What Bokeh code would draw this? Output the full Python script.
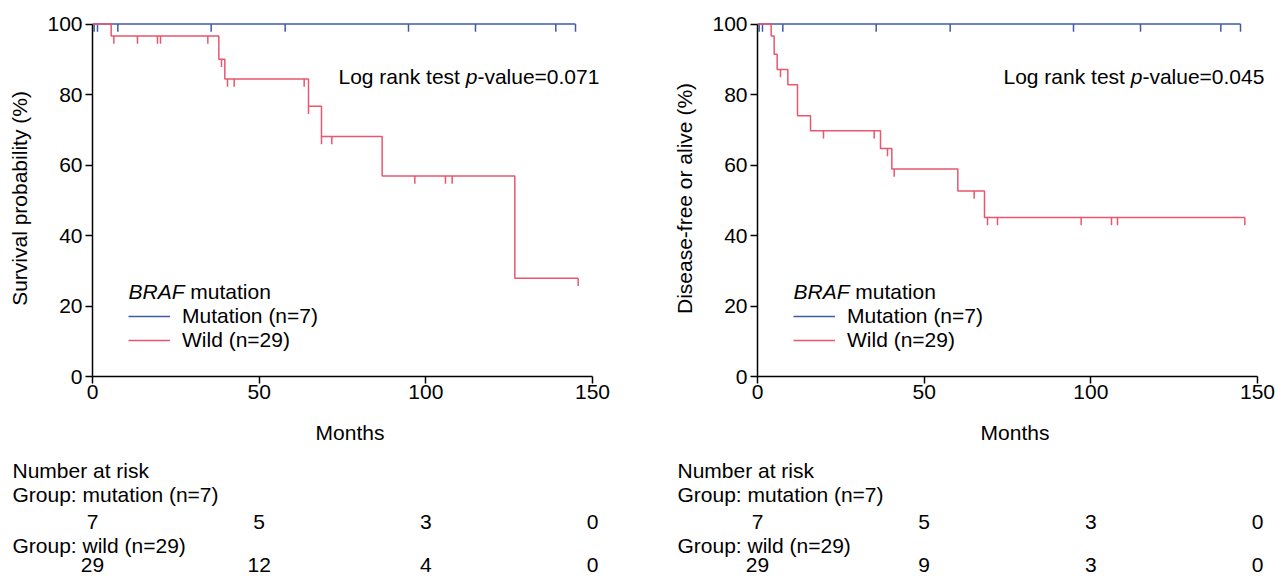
import numpy as np
from bokeh.plotting import figure
from bokeh.models import Range1d, FixedTicker, Legend, LegendItem
from bokeh.layouts import row, column
from bokeh.core.properties import value
from bokeh.embed import file_html
from bokeh.resources import INLINE

FONT = "Liberation Sans"
FS = "21px"
BLUE = "#3F5BA8"
RED = "#E8566F"

# ---------------- data ----------------
x_ticks = [0, 50, 100, 150]
y_ticks = [0, 20, 40, 60, 80, 100]

# Overall survival, wild type
os_wild_times = [0, 5.6, 37.9, 39.7, 64.8, 68.7, 86.9, 126.7]
os_wild_surv = [100, 96.6, 90.0, 84.4, 76.7, 68.1, 56.9, 27.9]
os_wild_end = 145.7
os_wild_censor = [6.4, 13.5, 19.5, 20.4, 34.6, 38.7, 40.5, 42.5, 63.5, 64.8,
                  68.7, 71.8, 96.7, 105.9, 107.9, 145.7]

# Disease-free, wild type
dfs_wild_times = [0, 4.1, 5.0, 5.9, 9.1, 12.0, 15.9, 36.9, 40.3, 60.1, 68.1]
dfs_wild_surv = [100, 96.6, 91.4, 87.1, 82.8, 74.0, 69.7, 64.7, 58.9, 52.6, 45.1]
dfs_wild_end = 146.2
dfs_wild_censor = [6.9, 19.8, 35.0, 39.0, 41.0, 65.0, 69.0, 72.0, 97.1, 106.2,
                   108.0, 146.2]

# Mutation group (no events)
mut_times = [0]
mut_surv = [100]
mut_end = 144.9
mut_censor = [0.5, 1.5, 7.6, 35.6, 57.8, 94.8, 114.9, 139.0, 144.9]

# Number at risk
risk_times = [0, 50, 100, 150]
os_risk_mut = [7, 5, 3, 0]
os_risk_wild = [29, 12, 4, 0]
dfs_risk_mut = [7, 5, 3, 0]
dfs_risk_wild = [29, 9, 3, 0]

risk_labels = ["Number at risk", "Group: mutation (n=7)", "Group: wild (n=29)"]
legend_labels = ["Mutation (n=7)", "Wild (n=29)"]
os_p = "0.071"
dfs_p = "0.045"

# ---------------- layout constants ----------------
PX_PER_MONTH = 500 / 150.0
X_END = 154.5
Y_END = 101
FRAME_W = 515
FRAME_H = 356
LEFT_B = 92
TOP_B = 20
BOTTOM_B = 76
TOP_H = TOP_B + FRAME_H + BOTTOM_B
TOTAL_H = 576
TOTAL_W = 1275
RISK_H = TOTAL_H - TOP_H
TICK_LEN = 2.2
RISK_ROWS = [18, 42, 69, 93, 112]


def step_xy(times, surv, end):
    xs, ys = [], []
    for i, (t, s) in enumerate(zip(times, surv)):
        t_next = times[i + 1] if i + 1 < len(times) else end
        xs += [t, t_next]
        ys += [s, s]
    return xs, ys


def levels(times, surv, cens):
    idx = np.searchsorted(np.array(times), np.array(cens) + 1e-9, side="right") - 1
    return [surv[i] for i in idx]


def txt(p, x, y, text, align="left", style="normal", x_offset=0):
    p.text(x=x, y=y, text=text, text_font=value(FONT), text_font_size=value(FS),
           text_font_style=style, text_baseline="middle", text_align=align,
           text_color="black", x_offset=x_offset)


def make_top(ylabel, wt, ws, we, wc, pval, width):
    p = figure(width=width, height=TOP_H,
               x_range=Range1d(0, X_END), y_range=Range1d(0, Y_END),
               min_border_left=LEFT_B, min_border_right=width - LEFT_B - FRAME_W,
               min_border_top=TOP_B, min_border_bottom=BOTTOM_B,
               toolbar_location=None, output_backend="svg", frame_align=False)
    p.grid.visible = False
    p.outline_line_color = None

    for ax in (p.xaxis, p.yaxis):
        ax.axis_line_color = "black"
        ax.axis_line_width = 1.5
        ax.major_tick_line_color = "black"
        ax.major_tick_line_width = 1.5
        ax.major_tick_in = 0
        ax.major_tick_out = 7
        ax.minor_tick_line_color = None
        ax.major_label_text_font = FONT
        ax.major_label_text_font_size = FS
        ax.major_label_text_color = "black"
        ax.axis_label_text_font = FONT
        ax.axis_label_text_font_size = FS
        ax.axis_label_text_font_style = "normal"
        ax.axis_label_text_color = "black"
    p.xaxis.ticker = FixedTicker(ticks=x_ticks)
    p.yaxis.ticker = FixedTicker(ticks=y_ticks)
    p.xaxis.bounds = (0, 150)
    p.yaxis.bounds = (0, 100)
    p.xaxis.axis_label = "Months"
    p.yaxis.axis_label = ylabel
    p.xaxis.major_label_standoff = 1
    p.yaxis.major_label_standoff = 3
    p.xaxis.axis_label_standoff = 19
    p.yaxis.axis_label_standoff = 13

    # mutation curve
    bx, by = step_xy(mut_times, mut_surv, mut_end)
    r_blue = p.line(bx, by, line_color=BLUE, line_width=1.5)
    bl = levels(mut_times, mut_surv, mut_censor)
    p.segment(x0=mut_censor, y0=bl, x1=mut_censor,
              y1=[v - TICK_LEN for v in bl], line_color=BLUE, line_width=1.5)

    # wild curve
    rx, ry = step_xy(wt, ws, we)
    r_red = p.line(rx, ry, line_color=RED, line_width=1.5)
    rl = levels(wt, ws, wc)
    p.segment(x0=wc, y0=rl, x1=wc, y1=[v - TICK_LEN for v in rl],
              line_color=RED, line_width=1.5)

    # p-value text
    tx, ty = 73.8, 85.1
    txt(p, [tx], [ty], ["Log rank test "])
    txt(p, [tx], [ty], ["p"], style="italic", x_offset=127.2)
    txt(p, [tx], [ty], ["-value=" + pval], x_offset=138.9)

    # legend title
    lx, ly = 10.8, 24.1
    txt(p, [lx], [ly], ["BRAF"], style="italic")
    txt(p, [lx], [ly], ["mutation"], x_offset=61.8)

    legend = Legend(items=[LegendItem(label=legend_labels[0], renderers=[r_blue]),
                           LegendItem(label=legend_labels[1], renderers=[r_red])],
                    location=(36, 24), glyph_width=42, glyph_height=24,
                    label_height=24, label_standoff=12, spacing=0, padding=0,
                    margin=0, border_line_color=None, background_fill_alpha=0,
                    label_text_font=FONT, label_text_font_size=FS,
                    label_text_color="black")
    p.add_layout(legend)
    return p


def make_risk(width, mut_vals, wild_vals):
    x0 = -LEFT_B / PX_PER_MONTH
    r = figure(width=width, height=RISK_H,
               x_range=Range1d(x0, x0 + width / PX_PER_MONTH),
               y_range=Range1d(RISK_H, 0),
               min_border=0, toolbar_location=None, output_backend="svg",
               x_axis_location=None, y_axis_location=None, frame_align=False)
    r.grid.visible = False
    r.outline_line_color = None
    lab_x = -80 / PX_PER_MONTH
    txt(r, [lab_x] * 3, [RISK_ROWS[0], RISK_ROWS[1], RISK_ROWS[3]], risk_labels)
    txt(r, risk_times, [RISK_ROWS[2]] * 4, [str(v) for v in mut_vals],
        align="center")
    txt(r, risk_times, [RISK_ROWS[4]] * 4, [str(v) for v in wild_vals],
        align="center")
    return r


LEFT_W = 665
RIGHT_W = TOTAL_W - LEFT_W

top_l = make_top("Survival probability (%)", os_wild_times, os_wild_surv,
                 os_wild_end, os_wild_censor, os_p, LEFT_W)
top_r = make_top("Disease-free or alive (%)", dfs_wild_times, dfs_wild_surv,
                 dfs_wild_end, dfs_wild_censor, dfs_p, RIGHT_W)
risk_l = make_risk(LEFT_W, os_risk_mut, os_risk_wild)
risk_r = make_risk(RIGHT_W, dfs_risk_mut, dfs_risk_wild)

layout = row(column(top_l, risk_l), column(top_r, risk_r))
open("out.html", "w").write(file_html(layout, INLINE))
